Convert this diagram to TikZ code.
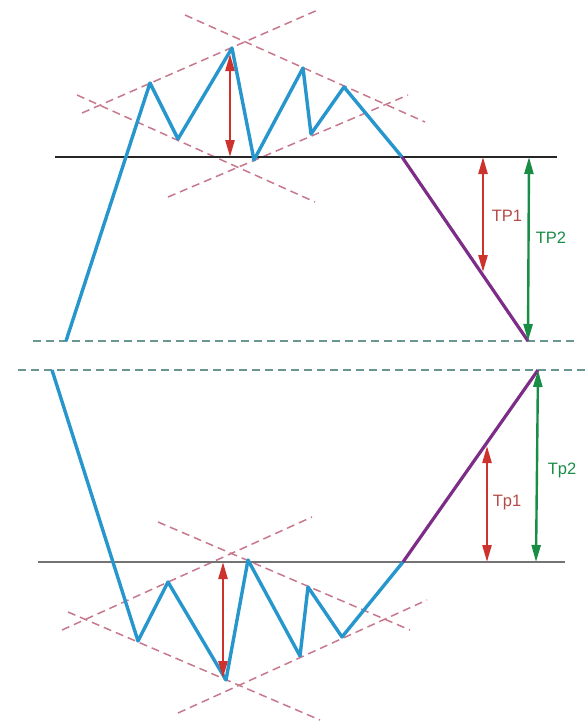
\documentclass[tikz,border=0pt]{standalone}
\usepackage{fontspec}
\setmainfont{Liberation Sans}
\usetikzlibrary{arrows.meta}

\definecolor{waveblue}{RGB}{38,150,205}
\definecolor{chanpink}{RGB}{200,120,140}
\definecolor{tpred}{RGB}{205,50,45}
\definecolor{tplabelred}{RGB}{180,75,70}
\definecolor{tpgreen}{RGB}{25,140,70}
\definecolor{legpurple}{RGB}{125,45,135}
\definecolor{levelteal}{RGB}{105,150,145}

\begin{document}
\begin{tikzpicture}[x=1pt, y=-1pt,
    wave/.style={waveblue, line width=3.4pt, line join=round},
    leg/.style={legpurple, line width=3.2pt},
    channel/.style={chanpink, line width=1.5pt, dash pattern=on 8pt off 5pt},
    level/.style={levelteal, line width=1.8pt, dash pattern=on 8pt off 5pt},
    neck/.style={line width=1.6pt},
    tparrow/.style={line width=2.4pt, {Triangle[length=17pt,width=9pt]}-{Triangle[length=17pt,width=9pt]}},
    tplabel/.style={font=\fontsize{16.5}{16.5}\selectfont}]

    \useasboundingbox (0,0) rectangle (586,726);

    % --- 1. PARAMETERS ---
    \def\neckTop{157}     % neckline of the top pattern
    \def\neckBot{562}     % neckline of the bottom pattern
    \def\levTop{341}      % target level (top)
    \def\levBot{370}      % target level (bottom)

    % --- 2. TARGET LEVELS ---
    \draw[level] (33,\levTop) -- (575,\levTop);
    \draw[level] (18,\levBot) -- (586,\levBot);

    % --- 3. TOP PATTERN ---
    % channel lines
    \draw[channel] (77,95) -- (315,202);
    \draw[channel] (82,113) -- (320,9);
    \draw[channel] (185,15) -- (425,122);
    \draw[channel] (168,197) -- (408,95);

    % neckline
    \draw[neck, black!85] (55,\neckTop) -- (557,\neckTop);

    % price swings
    \coordinate (tS) at (66,\levTop);
    \coordinate (tBreak) at (402,\neckTop);
    \coordinate (tEnd) at (528,\levTop);
    \draw[wave] (tS) -- (150,83) -- (178,139) -- (232,48) -- (254,160)
        -- (303,68) -- (311,134) -- (344,87) -- (tBreak);
    \draw[leg] (tBreak) -- (tEnd);

    % pattern height
    \draw[tparrow, tpred] (230,54) -- (230,\neckTop);

    % targets
    \coordinate (tA) at (483,\neckTop);
    \coordinate (tAe) at (483,272);
    \coordinate (tB) at (529,\neckTop);
    \draw[tparrow, tpred] (tA) -- (tAe);
    \draw[tparrow, tpgreen] (tB) -- (tEnd);
    \node[tplabel, text=tplabelred] (lblTPone) at (507,216) {TP1};
    \node[tplabel, text=tpgreen] (lblTPtwo) at (551,238) {TP2};

    % --- 4. BOTTOM PATTERN ---
    % channel lines
    \draw[channel] (158,522) -- (410,630);
    \draw[channel] (62,630) -- (312,517);
    \draw[channel] (68,612) -- (320,720);
    \draw[channel] (178,713) -- (427,600);

    % neckline
    \draw[neck, black!55] (38,\neckBot) -- (565,\neckBot);

    % price swings
    \coordinate (bS) at (52,\levBot);
    \coordinate (bBreak) at (403,\neckBot);
    \coordinate (bEnd) at (538,\levBot);
    \draw[wave] (bS) -- (138,641) -- (168,582) -- (226,680) -- (248,560)
        -- (300,656) -- (308,587) -- (342,637) -- (bBreak);
    \draw[leg] (bBreak) -- (bEnd);

    % pattern height
    \draw[tparrow, tpred] (223,\neckBot) -- (223,678);

    % targets
    \coordinate (bA) at (487,\neckBot);
    \coordinate (bAe) at (487,446);
    \coordinate (bB) at (536,\neckBot);
    \draw[tparrow, tpred] (bA) -- (bAe);
    \draw[tparrow, tpgreen] (bB) -- (bEnd);
    \node[tplabel, text=tplabelred] (lblTpone) at (507,503) {Tp1};
    \node[tplabel, text=tpgreen] (lblTptwo) at (562,470) {Tp2};

\end{tikzpicture}
\end{document}
